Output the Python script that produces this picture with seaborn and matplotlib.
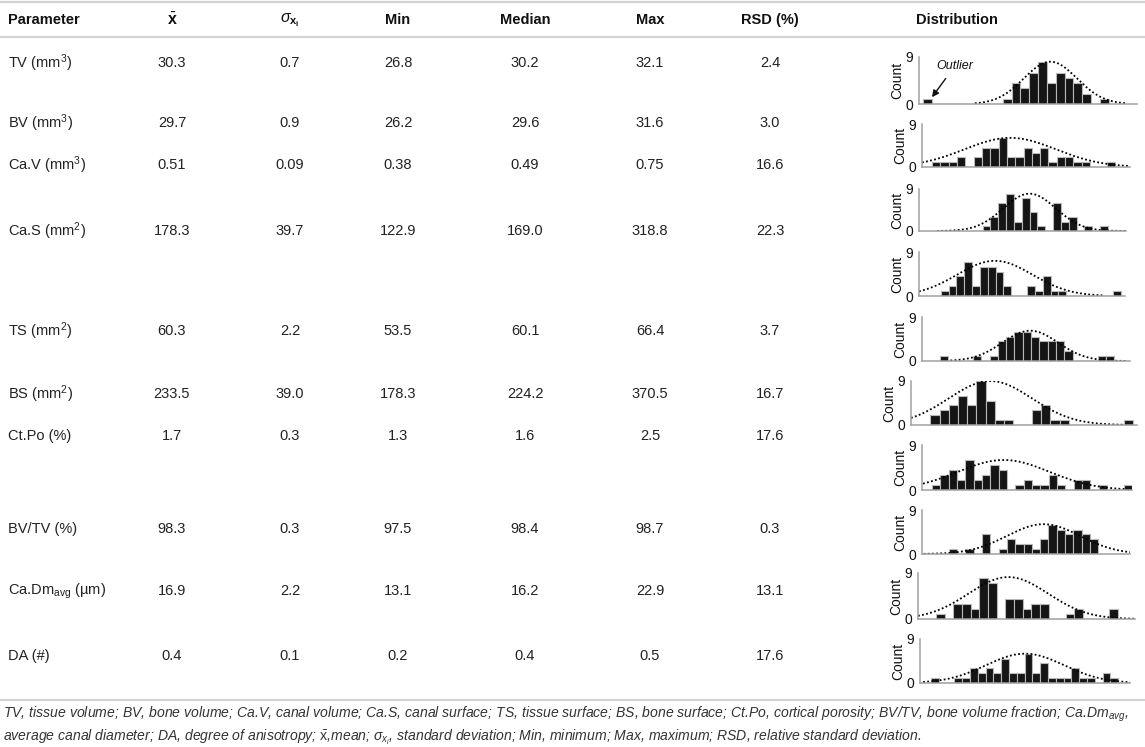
import numpy as np
import pandas as pd
import matplotlib
matplotlib.use("Agg")
import matplotlib.pyplot as plt
import seaborn as sns

# --- Table values ---
row_labels = ['TV (mm$^{3}$)', 'BV (mm$^{3}$)', 'Ca.V (mm$^{3}$)', 'Ca.S (mm$^{2}$)', 'TS (mm$^{2}$)',
              'BS (mm$^{2}$)', 'Ct.Po (%)', 'BV/TV (%)', 'Ca.Dm$_{\\mathrm{avg}}$ (µm)', 'DA (#)']
mean_vals = ['30.3', '29.7', '0.51', '178.3', '60.3', '233.5', '1.7', '98.3', '16.9', '0.4']
sd_vals = ['0.7', '0.9', '0.09', '39.7', '2.2', '39.0', '0.3', '0.3', '2.2', '0.1']
min_vals = ['26.8', '26.2', '0.38', '122.9', '53.5', '178.3', '1.3', '97.5', '13.1', '0.2']
median_vals = ['30.2', '29.6', '0.49', '169.0', '60.1', '224.2', '1.6', '98.4', '16.2', '0.4']
max_vals = ['32.1', '31.6', '0.75', '318.8', '66.4', '370.5', '2.5', '98.7', '22.9', '0.5']
rsd_vals = ['2.4', '3.0', '16.6', '22.3', '3.7', '16.7', '17.6', '0.3', '13.1', '17.6']

header_labels = ['Parameter', r'$\bar{\mathbf{x}}$', r'$\sigma_{\mathbf{x}_{\mathbf{i}}}$', 'Min', 'Median',
                 'Max', 'RSD (%)', 'Distribution']

# --- Distribution histograms (counts per bin) ---
tv_counts = [1, 0, 0, 0, 0, 0, 0, 0, 0, 1, 4, 3, 6, 8, 4, 6, 5, 4, 2, 0, 1]
bv_counts = [1, 1, 1, 2, 0, 2, 4, 4, 6, 2, 2, 4, 3, 4, 1, 2, 2, 1, 1, 0, 0, 1]
cav_counts = [1, 3, 6, 8, 2, 7, 4, 1, 0, 6, 2, 3, 0, 1, 0, 1]
cas_counts = [1, 2, 4, 7, 2, 6, 6, 5, 2, 0, 0, 2, 1, 4, 1, 1, 0, 0, 0, 0, 0, 0, 1]
ts_counts = [1, 0, 0, 0, 1, 0, 1, 4, 5, 6, 6, 5, 4, 4, 4, 2, 0, 0, 0, 1, 1]
bs_counts = [2, 3, 4, 6, 4, 9, 5, 1, 1, 0, 0, 3, 4, 1, 1, 0, 0, 0, 0, 0, 0, 1]
ctpo_counts = [1, 3, 4, 2, 6, 2, 3, 5, 4, 0, 1, 2, 1, 1, 3, 1, 0, 2, 2, 0, 1, 0, 0, 1]
bvtv_counts = [1, 0, 1, 0, 4, 0, 1, 3, 2, 2, 1, 3, 6, 5, 4, 5, 4, 3]
cadm_counts = [1, 0, 3, 3, 2, 8, 7, 0, 4, 4, 2, 3, 3, 0, 0, 1, 2, 0, 0, 0, 2]
da_counts = [1, 0, 0, 1, 1, 3, 2, 3, 2, 5, 2, 2, 6, 2, 4, 1, 1, 1, 3, 1, 1, 0, 2, 1]

hist_counts = [tv_counts, bv_counts, cav_counts, cas_counts, ts_counts,
               bs_counts, ctpo_counts, bvtv_counts, cadm_counts, da_counts]

# normal fit overlay (in bin units): centre, spread, peak, drawn range
fit_mu = [14.4, 9.4, 6.0, 6.9, 10.9, 6.5, 8.6, 11.4, 8.35, 12.05]
fit_sd = [3.0, 5.5, 3.35, 4.8, 3.35, 4.5, 5.5, 4.4, 4.6, 5.0]
fit_peak = [8.1, 6.1, 8.0, 7.2, 6.2, 9.0, 6.0, 6.1, 8.2, 6.0]
fit_lo = [5.85, -1.2, -5.8, -2.77, 1.3, -2.1, -1.08, -3.0, -2.1, -1.0]
fit_hi = [23.1, 23.8, 18.2, 20.7, 22.5, 20.9, 23.4, 21.8, 23.0, 25.5]

# --- Layout (pixels) ---
W, H = 1145, 747
col_x = [8, 172, 290, 398, 525, 650, 770, 916]
header_y = 20
row_y = [63, 123, 165, 231, 331, 394, 436, 529, 591, 656]
# left, right, top(9), zero
hist_boxes = [(919, 1137, 57, 104), (922, 1130, 124, 167), (919, 1126, 189, 231),
              (919, 1125, 252, 296), (922, 1130, 317, 361), (911, 1137, 381, 425),
              (922, 1132, 445, 490), (922, 1130, 510, 554), (918, 1135, 573, 619),
              (920, 1130, 639, 683)]
hist_xlim = [(-0.47, 24.2), (-1.2, 23.8), (-8.1, 18.3), (-2.77, 23.5), (-2.12, 22.9),
             (-2.1, 22.4), (-1.2, 24.0), (-3.2, 21.8), (-2.1, 23.0), (-1.4, 25.5)]

# --- Styling ---
sns.set_style("white")
plt.rcParams['font.family'] = ['Liberation Sans', 'DejaVu Sans']
plt.rcParams['mathtext.fontset'] = 'custom'
plt.rcParams['mathtext.rm'] = 'Liberation Sans'
plt.rcParams['mathtext.it'] = 'Liberation Sans:italic'
plt.rcParams['mathtext.bf'] = 'Liberation Sans:bold'
text_color = '#222222'
rule_color = '#d4d4d4'

fig = plt.figure(figsize=(W / 100, H / 100), dpi=100)
ax_t = fig.add_axes([0, 0, 1, 1])
ax_t.set_xlim(0, W)
ax_t.set_ylim(H, 0)
ax_t.axis('off')

# rules
for yy in [1.5, 37, 700]:
    ax_t.plot([0, W], [yy, yy], color=rule_color, lw=1.6, solid_capstyle='butt')

# header
for i, lab in enumerate(header_labels):
    ha = 'left' if i in (0, 7) else 'center'
    size = 11.5 if i in (1, 2) else 10.5
    ax_t.text(col_x[i], header_y, lab, ha=ha, va='center', fontsize=size,
              fontweight='bold', color='#111111')

# body
columns = [mean_vals, sd_vals, min_vals, median_vals, max_vals, rsd_vals]
for r in range(len(row_labels)):
    ax_t.text(col_x[0], row_y[r], row_labels[r], ha='left', va='center',
              fontsize=10.5, color=text_color)
    for c, vals in enumerate(columns):
        ax_t.text(col_x[c + 1], row_y[r], vals[r], ha='center', va='center',
                  fontsize=10.5, color=text_color)

# footnote
foot1 = ('TV, tissue volume; BV, bone volume; Ca.V, canal volume; Ca.S, canal surface; TS, tissue surface; '
         'BS, bone surface; Ct.Po, cortical porosity; BV/TV, bone volume fraction; Ca.Dm$_{\\mathit{avg}}$,')
foot2 = ('average canal diameter; DA, degree of anisotropy; $\\bar{\\mathrm{x}}$,mean; $\\sigma_{x_i}$, '
         'standard deviation; Min, minimum; Max, maximum; RSD, relative standard deviation.')
ax_t.text(3, 714, foot1, ha='left', va='center', fontsize=10.05, style='italic', color='#333333')
ax_t.text(3, 737, foot2, ha='left', va='center', fontsize=10.05, style='italic', color='#333333')

# histograms
for i, counts in enumerate(hist_counts):
    left, right, top, zero = hist_boxes[i]
    ax = fig.add_axes([left / W, 1 - zero / H, (right - left) / W, (zero - top) / H])
    df = pd.DataFrame({'bin_mid': np.arange(len(counts)) + 0.5, 'n': counts})
    sns.barplot(data=df, x='bin_mid', y='n', native_scale=True, width=1.0, errorbar=None,
                color='#151515', edgecolor='#b8b8b8', linewidth=0.8, saturation=1, ax=ax)
    xs = np.linspace(fit_lo[i], fit_hi[i], 300)
    ys = fit_peak[i] * np.exp(-0.5 * ((xs - fit_mu[i]) / fit_sd[i]) ** 2)
    sns.lineplot(x=xs, y=ys, ax=ax, color='black', linewidth=1.3, linestyle=(0, (1, 1.3)))
    ax.set_xlim(*hist_xlim[i])
    ax.set_ylim(0, 9)
    ax.set_yticks([0, 9])
    ax.set_xticks([])
    ax.set_xlabel('')
    ax.set_ylabel('Count', fontsize=10, labelpad=1, color='#111111')
    ax.tick_params(axis='y', labelsize=10, length=2, pad=2, colors='#111111', width=0.8)
    ax.patch.set_alpha(0)
    for s in ['top', 'right']:
        ax.spines[s].set_visible(False)
    for s in ['left', 'bottom']:
        ax.spines[s].set_color('#a0a0a0')
        ax.spines[s].set_linewidth(1.1)
    if i == 0:
        ax.annotate('Outlier', xy=(1.0, 1.3), xytext=(3.6, 7.3), ha='center', va='center',
                    fontsize=9, style='italic', color='#111111',
                    arrowprops=dict(arrowstyle='-|>', color='#111111', lw=1.0,
                                    shrinkA=3, shrinkB=0, mutation_scale=10))

fig.savefig('out.png', dpi=100)
